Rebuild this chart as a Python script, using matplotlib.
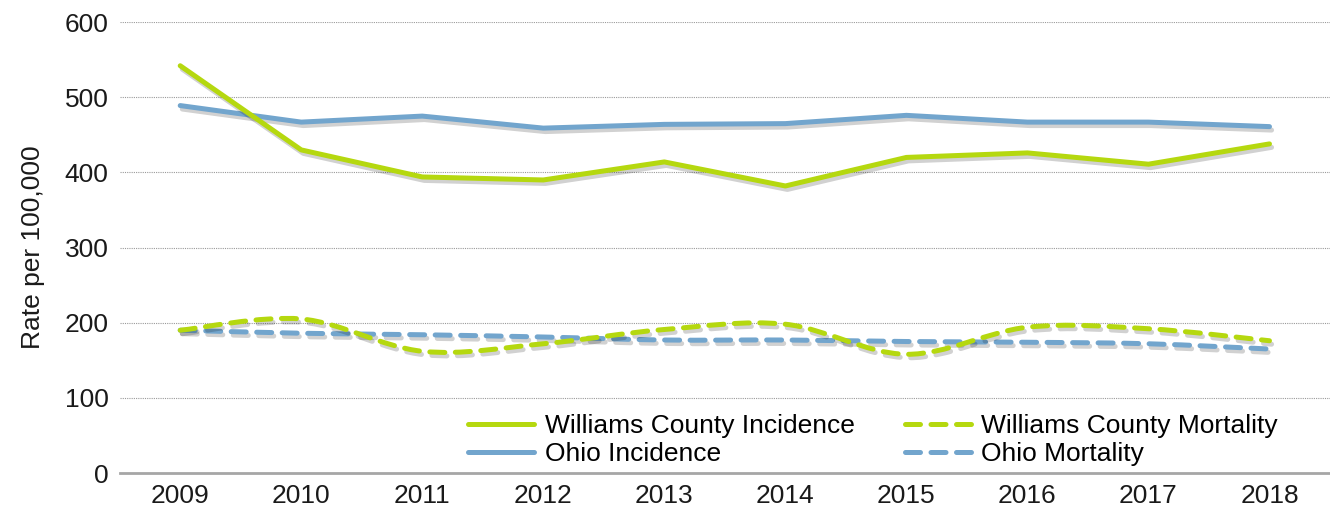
import matplotlib
matplotlib.use("Agg")
import matplotlib.pyplot as plt
import matplotlib.patheffects as pe
from matplotlib.path import Path
from matplotlib.patches import PathPatch
from matplotlib.lines import Line2D
import numpy as np

plt.rcParams['font.family'] = ['Liberation Sans', 'DejaVu Sans']

years = ['2009', '2010', '2011', '2012', '2013', '2014', '2015', '2016', '2017', '2018']
williams_incidence = [542, 430, 394, 390, 414, 382, 420, 426, 411, 438]
ohio_incidence = [489, 467, 475, 459, 464, 465, 476, 467, 467, 461]
williams_mortality = [190, 205, 162, 172, 191, 198, 158, 194, 192, 176]
ohio_mortality = [190, 186, 184, 181, 177, 177, 175, 174, 172, 165]

green = '#B5D80F'
blue = '#72A5CD'

shadow = [pe.SimpleLineShadow(offset=(1.5, -2.5), shadow_color='#000000', alpha=0.18),
          pe.Normal()]


def smooth_path(xs, ys):
    # Catmull-Rom segments as cubic Bezier, like Excel's smoothed line
    pts = np.column_stack([xs, ys]).astype(float)
    verts = [pts[0]]
    codes = [Path.MOVETO]
    n = len(pts)
    for i in range(n - 1):
        p0 = pts[i - 1] if i > 0 else pts[i]
        p1 = pts[i]
        p2 = pts[i + 1]
        p3 = pts[i + 2] if i + 2 < n else pts[i + 1]
        c1 = p1 + (p2 - p0) / 6.0
        c2 = p2 - (p3 - p1) / 6.0
        verts += [c1, c2, p2]
        codes += [Path.CURVE4] * 3
    return Path(verts, codes)


fig = plt.figure(figsize=(13.3, 5.23), dpi=100)
ax = fig.add_axes([0.090, 0.0956, 0.910, 0.862])

x = np.arange(len(years))
lw = 3.6
dash = (0, (3.0, 2.1))

ax.plot(x, williams_incidence, color=green, lw=lw, solid_capstyle='round',
        solid_joinstyle='round', path_effects=shadow, zorder=4)
ax.plot(x, ohio_incidence, color=blue, lw=lw, solid_capstyle='round',
        solid_joinstyle='round', path_effects=shadow, zorder=3)

for vals, col, z in [(ohio_mortality, blue, 3), (williams_mortality, green, 4)]:
    patch = PathPatch(smooth_path(x, vals), fill=False, edgecolor=col, lw=lw,
                      linestyle=dash, capstyle='round', zorder=z,
                      path_effects=shadow)
    ax.add_patch(patch)

ax.set_xlim(-0.5, 9.5)
ax.set_ylim(0, 600)
ax.set_yticks(range(0, 601, 100))
ax.set_xticks(x)
ax.set_xticklabels(years)
ax.tick_params(length=0, labelsize=19, colors='#1a1a1a')
ax.tick_params(axis='x', pad=8)
ax.tick_params(axis='y', pad=8)

ax.yaxis.grid(True, linestyle=(0, (1, 1)), color='#9a9a9a', lw=0.8)
ax.set_axisbelow(True)
for s in ['left', 'right', 'top']:
    ax.spines[s].set_visible(False)
ax.spines['bottom'].set_color('#a6a6a6')
ax.spines['bottom'].set_linewidth(2)
ax.spines['bottom'].set_zorder(5)

ax.set_ylabel('Rate per 100,000', fontsize=19, color='#1a1a1a', labelpad=14)

handles = [
    Line2D([], [], color=green, lw=lw, solid_capstyle='round'),
    Line2D([], [], color=blue, lw=lw, solid_capstyle='round'),
    Line2D([], [], color=green, lw=lw, linestyle=dash, dash_capstyle='round'),
    Line2D([], [], color=blue, lw=lw, linestyle=dash, dash_capstyle='round'),
]
labels = ['Williams County Incidence', 'Ohio Incidence',
          'Williams County Mortality', 'Ohio Mortality']
ax.legend(handles, labels, ncol=2, loc='lower left', bbox_to_anchor=(0.288, 0.015),
          frameon=False, fontsize=19, handlelength=2.5, handletextpad=0.4,
          columnspacing=1.9, labelspacing=0.15, borderaxespad=0, borderpad=0)

fig.savefig('out.png', dpi=100)
